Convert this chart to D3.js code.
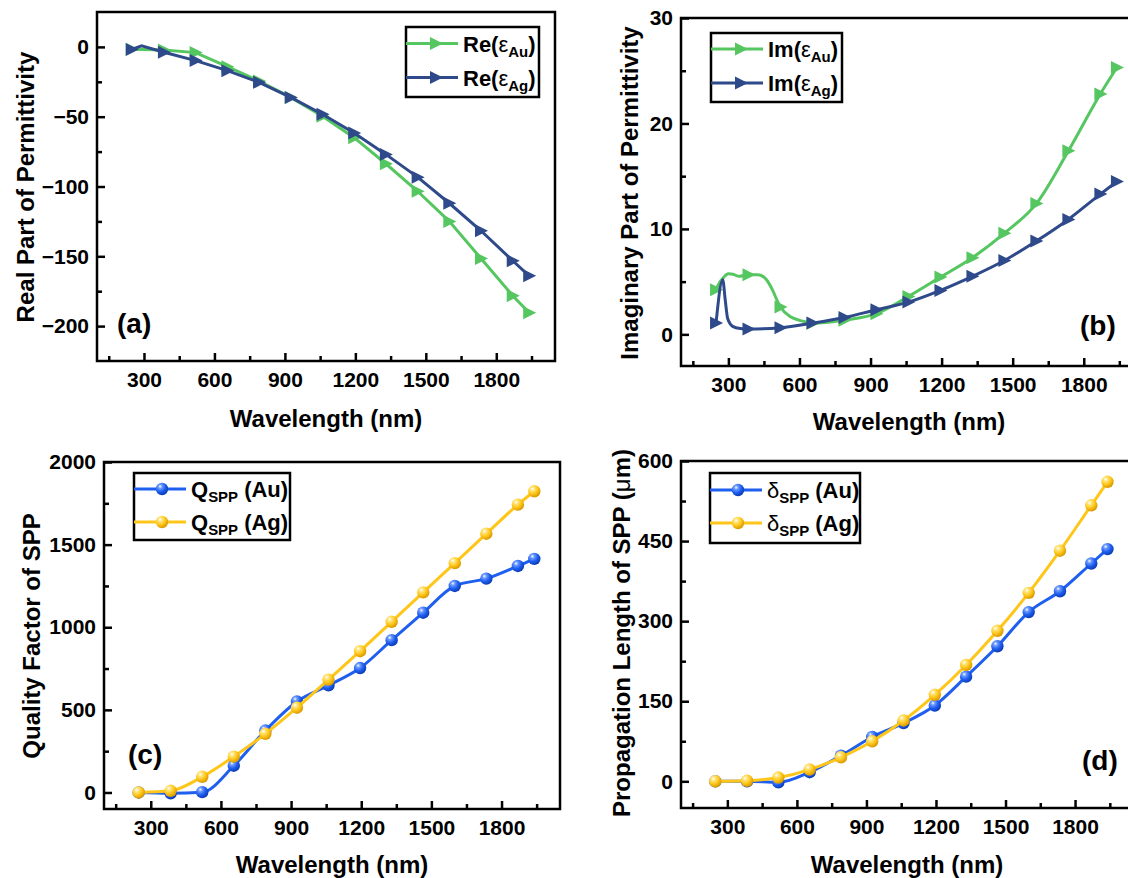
<!DOCTYPE html>
<html>
<head>
<meta charset="utf-8">
<script src="https://cdn.jsdelivr.net/npm/d3@7"></script>
<style>
  body { margin: 0; background: #fff; }
  svg { display: block; font-family: "Liberation Sans", Arial, sans-serif; }
</style>
</head>
<body>
<script>
// wavelengths where markers are drawn (nm)
const lambda = [248, 385, 520, 655, 790, 925, 1060, 1195, 1330, 1465, 1600, 1735, 1870, 1940];

// (a) real part of permittivity
const reAu = [-1.7, -2.2, -4.1, -14.2, -24.5, -36.2, -49.6, -65, -83.7, -103.4, -125, -151.6, -178.2, -190.4];
const reAgX = [248, 290, 385, 520, 655, 790, 925, 1060, 1195, 1330, 1465, 1600, 1735, 1870, 1940];
const reAg = [-1.8, 0.8, -3.8, -9.8, -17, -25.4, -36.2, -48.2, -61.7, -77, -93.3, -112, -131.7, -153.2, -164];

// (b) imaginary part of permittivity (extra points without markers near the interband region)
const imAuX = [248, 262, 276, 300, 320, 345, 385, 425, 460, 487, 508, 520, 560, 600, 640, 655, 790, 925, 1060, 1195, 1330, 1465, 1600, 1735, 1870, 1940];
const imAu = [4.24, 4.9, 5.3, 5.75, 5.7, 5.5, 5.66, 5.66, 5.2, 4.17, 3.1, 2.6, 1.7, 1.33, 1.12, 1.05, 1.35, 1.96, 3.6, 5.43, 7.27, 9.6, 12.4, 17.4, 22.8, 25.3];
const imAgX = [248, 276, 287, 297, 318, 350, 385, 520, 655, 790, 925, 1060, 1195, 1330, 1465, 1600, 1735, 1870, 1940];
const imAg = [1.07, 5.18, 3.2, 1.5, 0.76, 0.55, 0.5, 0.63, 1.07, 1.6, 2.34, 3.06, 4.17, 5.5, 7.0, 8.85, 10.9, 13.3, 14.5];

// (c) quality factor
const qAu = [0, -5, 2, 162, 375, 551, 648, 753, 922, 1088, 1250, 1294, 1371, 1414];
const qAg = [0, 10, 95, 217, 355, 513, 683, 855, 1033, 1211, 1388, 1566, 1742, 1823];

// (d) propagation length (um)
const dAu = [0, 0, -2, 17, 48, 83, 109, 142, 196, 253, 317, 356, 408, 435];
const dAg = [0, 1, 7, 22, 45, 75, 114, 162, 218, 282, 353, 432, 517, 561];

// ticks
const xMajor = [300, 600, 900, 1200, 1500, 1800];
const xMinor = [150, 450, 750, 1050, 1350, 1650, 1950];
const xDomain = [100, 2050];

const GREEN = "#55c660", NAVY = "#2f4a8a", BLUE = "#1f5ff0", GOLD = "#ffc61a";

const svg = d3.select("body").append("svg").attr("width", 1128).attr("height", 878);
const defs = svg.append("defs");

function sphereGrad(id, hi, mid, dark) {
  const gr = defs.append("radialGradient").attr("id", id)
    .attr("cx", "35%").attr("cy", "30%").attr("r", "70%");
  gr.append("stop").attr("offset", "0%").attr("stop-color", "#ffffff");
  gr.append("stop").attr("offset", "22%").attr("stop-color", hi);
  gr.append("stop").attr("offset", "60%").attr("stop-color", mid);
  gr.append("stop").attr("offset", "100%").attr("stop-color", dark);
}
sphereGrad("gBlue", "#6f9cff", BLUE, "#0c3cb8");
sphereGrad("gGold", "#ffe680", GOLD, "#d99a00");

const triPath = "M-6,-6.5L7,0L-6,6.5Z";

function richText(sel, parts, size) {
  parts.forEach((p, i) => {
    const prevSub = i > 0 && parts[i - 1].sub;
    const ts = sel.append("tspan").text(p.t)
      .attr("font-weight", p.w || "bold")
      .attr("font-size", p.sub ? size * 0.68 : size);
    if (p.sub) ts.attr("dy", 5);
    else if (prevSub) ts.attr("dy", -5);
  });
}

function drawPanel(p) {
  const x = d3.scaleLinear().domain(xDomain).range([p.l, p.r]);
  const y = d3.scaleLinear().domain(p.yDomain).range([p.b, p.t]);
  const g = svg.append("g");

  const styleAxis = a => {
    a.select(".domain").remove();
    a.selectAll("line").attr("stroke", "#000").attr("stroke-width", 2.5);
    a.attr("font-family", "Liberation Sans, Arial, sans-serif").attr("font-size", 21).attr("font-weight", "bold");
    a.selectAll("text").attr("fill", "#000");
  };

  g.append("g").attr("transform", `translate(0,${p.b})`)
    .call(d3.axisBottom(x).tickValues(xMajor).tickSize(-8).tickPadding(11).tickFormat(d3.format("d")))
    .call(styleAxis);
  g.append("g").attr("transform", `translate(0,${p.b})`)
    .call(d3.axisBottom(x).tickValues(xMinor).tickSize(-5).tickFormat(""))
    .call(styleAxis);
  g.append("g").attr("transform", `translate(${p.l},0)`)
    .call(d3.axisLeft(y).tickValues(p.yMajor).tickSize(-8).tickPadding(8).tickFormat(d3.format("d")))
    .call(styleAxis);
  g.append("g").attr("transform", `translate(${p.l},0)`)
    .call(d3.axisLeft(y).tickValues(p.yMinor).tickSize(-5).tickFormat(""))
    .call(styleAxis);

  g.append("rect").attr("x", p.l).attr("y", p.t)
    .attr("width", p.r - p.l).attr("height", p.b - p.t)
    .attr("fill", "none").attr("stroke", "#000").attr("stroke-width", 2.5);

  // series
  p.series.forEach(s => {
    const pts = s.x.map((xv, i) => [xv, s.y[i]]);
    const line = d3.line().x(d => x(d[0])).y(d => y(d[1])).curve(p.curve);
    g.append("path").datum(pts).attr("d", line)
      .attr("fill", "none").attr("stroke", s.color).attr("stroke-width", 3);
    const mk = pts.filter(d => lambda.includes(d[0]));
    if (s.marker === "tri") {
      g.selectAll(null).data(mk).enter().append("path")
        .attr("d", triPath)
        .attr("transform", d => `translate(${x(d[0])},${y(d[1])})`)
        .attr("fill", s.color);
    } else {
      g.selectAll(null).data(mk).enter().append("circle")
        .attr("cx", d => x(d[0])).attr("cy", d => y(d[1])).attr("r", 6.2)
        .attr("fill", s.grad);
    }
  });

  // legend
  const L = p.legend;
  g.append("rect").attr("x", L.x).attr("y", L.y).attr("width", L.w).attr("height", L.h)
    .attr("fill", "#fff").attr("stroke", "#000").attr("stroke-width", 2.5);
  p.series.forEach((s, i) => {
    const ly = L.rows[i];
    g.append("line").attr("x1", L.x).attr("x2", L.x + 52).attr("y1", ly).attr("y2", ly)
      .attr("stroke", s.color).attr("stroke-width", 3);
    if (s.marker === "tri") {
      g.append("path").attr("d", triPath).attr("transform", `translate(${L.x + 30},${ly})`).attr("fill", s.color);
    } else {
      g.append("circle").attr("cx", L.x + 28).attr("cy", ly).attr("r", 6.2).attr("fill", s.grad);
    }
    const t = g.append("text").attr("x", L.x + 57).attr("y", ly + 8).attr("fill", "#000");
    richText(t, s.label, 22);
  });

  // axis titles
  g.append("text").attr("x", p.xTitle[0]).attr("y", p.xTitle[1])
    .attr("text-anchor", "middle").attr("font-size", 24).attr("font-weight", "bold")
    .text("Wavelength (nm)");
  const yt = g.append("text")
    .attr("transform", `translate(${p.yTitle[0]},${p.yTitle[1]}) rotate(-90)`)
    .attr("text-anchor", "middle").attr("font-size", 24).attr("font-weight", "bold");
  richText(yt, p.yLabel, 24);

  g.append("text").attr("x", p.tag[0]).attr("y", p.tag[1])
    .attr("font-size", 28).attr("font-weight", "bold").text(p.tagText);
}

const panels = [
  {
    l: 97, r: 555, t: 12, b: 361, yDomain: [-225, 25],
    yMajor: [0, -50, -100, -150, -200], yMinor: [-25, -75, -125, -175],
    curve: d3.curveLinear,
    series: [
      { x: lambda, y: reAu, color: GREEN, marker: "tri", label: [{ t: "Re(" }, { t: "ε", w: "normal" }, { t: "Au", sub: true }, { t: ")" }] },
      { x: reAgX, y: reAg, color: NAVY, marker: "tri", label: [{ t: "Re(" }, { t: "ε", w: "normal" }, { t: "Ag", sub: true }, { t: ")" }] }
    ],
    legend: { x: 406, y: 27, w: 133, h: 70, rows: [43.5, 77.5] },
    xTitle: [326, 427], yTitle: [34, 187], yLabel: [{ t: "Real Part of Permittivity" }],
    tag: [117, 333], tagText: "(a)"
  },
  {
    l: 681, r: 1143, t: 18, b: 366, yDomain: [-3, 30],
    yMajor: [0, 10, 20, 30], yMinor: [5, 15, 25],
    curve: d3.curveMonotoneX,
    series: [
      { x: imAuX, y: imAu, color: GREEN, marker: "tri", label: [{ t: "Im(" }, { t: "ε", w: "normal" }, { t: "Au", sub: true }, { t: ")" }] },
      { x: imAgX, y: imAg, color: NAVY, marker: "tri", label: [{ t: "Im(" }, { t: "ε", w: "normal" }, { t: "Ag", sub: true }, { t: ")" }] }
    ],
    legend: { x: 711, y: 33, w: 131, h: 69, rows: [49, 83] },
    xTitle: [909, 430], yTitle: [638, 193], yLabel: [{ t: "Imaginary Part of Permittivity" }],
    tag: [1080, 335], tagText: "(b)"
  },
  {
    l: 104, r: 560, t: 462, b: 809, yDomain: [-100, 2000],
    yMajor: [0, 500, 1000, 1500, 2000], yMinor: [250, 750, 1250, 1750],
    curve: d3.curveMonotoneX,
    series: [
      { x: lambda, y: qAu, color: BLUE, grad: "url(#gBlue)", label: [{ t: "Q" }, { t: "SPP", sub: true }, { t: " (Au)" }] },
      { x: lambda, y: qAg, color: GOLD, grad: "url(#gGold)", label: [{ t: "Q" }, { t: "SPP", sub: true }, { t: " (Ag)" }] }
    ],
    legend: { x: 134, y: 473, w: 156, h: 67, rows: [489, 522] },
    xTitle: [332, 873], yTitle: [40, 636], yLabel: [{ t: "Quality Factor of SPP" }],
    tag: [128, 764], tagText: "(c)"
  },
  {
    l: 681, r: 1133, t: 461, b: 808, yDomain: [-50, 600],
    yMajor: [0, 150, 300, 450, 600], yMinor: [75, 225, 375, 525],
    curve: d3.curveMonotoneX,
    series: [
      { x: lambda, y: dAu, color: BLUE, grad: "url(#gBlue)", label: [{ t: "δ", w: "normal" }, { t: "SPP", sub: true }, { t: " (Au)" }] },
      { x: lambda, y: dAg, color: GOLD, grad: "url(#gGold)", label: [{ t: "δ", w: "normal" }, { t: "SPP", sub: true }, { t: " (Ag)" }] }
    ],
    legend: { x: 710, y: 473, w: 150, h: 70, rows: [490, 523] },
    xTitle: [907, 873], yTitle: [630, 633],
    yLabel: [{ t: "Propagation Length of SPP (" }, { t: "μ", w: "normal" }, { t: "m)" }],
    tag: [1082, 770], tagText: "(d)"
  }
];

panels.forEach(drawPanel);
</script>
</body>
</html>
